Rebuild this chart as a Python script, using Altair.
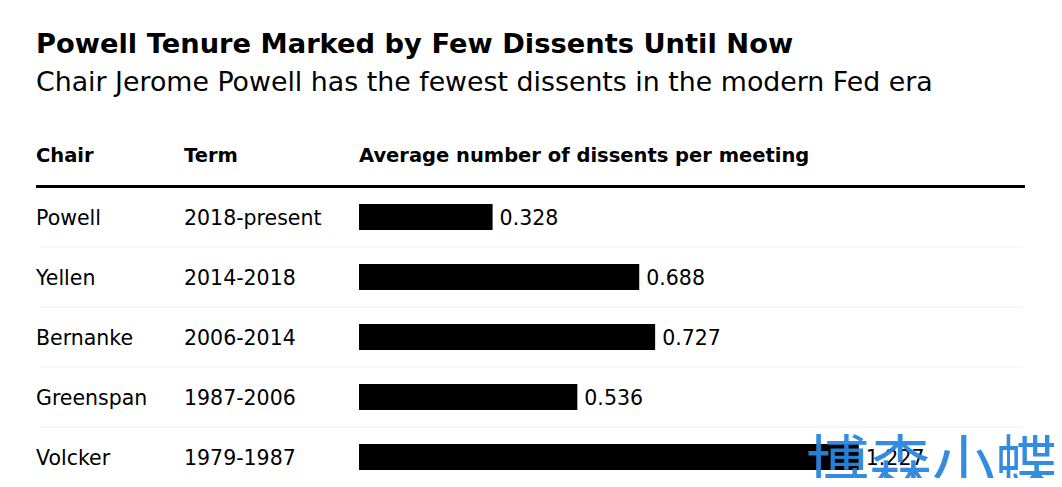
import altair as alt
import pandas as pd

chairs = ["Powell", "Yellen", "Bernanke", "Greenspan", "Volcker"]
terms = ["2018-present", "2014-2018", "2006-2014", "1987-2006", "1979-1987"]
dissents = [0.328, 0.688, 0.727, 0.536, 1.227]
labels = ["0.328", "0.688", "0.727", "0.536", "1.227"]

title_text = "Powell Tenure Marked by Few Dissents Until Now"
subtitle_text = "Chair Jerome Powell has the fewest dissents in the modern Fed era"
headers = ["Chair", "Term", "Average number of dissents per meeting"]
watermark = "博森小蝶"

df = pd.DataFrame({"chair": chairs, "term": terms, "value": dissents, "label": labels})

FONT = "DejaVu Sans"
W = 989
H = 340
BAR_X0 = 323

yscale = alt.Scale(domain=chairs, range=[57, 357], paddingInner=0, paddingOuter=0)
xscale = alt.Scale(domain=[0, 1.5], range=[BAR_X0, BAR_X0 + 611])
Y = alt.Y("chair:N", sort=chairs, axis=None, scale=yscale)

base = alt.Chart(df)

sep = base.transform_filter(alt.datum.chair != "Volcker").mark_rule(
    color="#f0f0f0", strokeWidth=1
).encode(
    y=alt.Y("chair:N", sort=chairs, axis=None, scale=yscale, bandPosition=1),
    x=alt.value(4),
    x2=alt.value(W - 2),
)

thick = base.transform_filter(alt.datum.chair == "Powell").mark_rule(
    color="black", strokeWidth=3
).encode(y=alt.value(56.5), x=alt.value(0), x2=alt.value(W))

bars = base.mark_bar(color="black", size=26).encode(
    x=alt.X("value:Q", scale=xscale, axis=None), y=Y
)

vals = base.mark_text(
    align="left", baseline="alphabetic", dx=7, dy=7.5, fontSize=20.5, font=FONT, color="black"
).encode(x=alt.X("value:Q", scale=xscale, axis=None), y=Y, text="label:N")

chair_txt = base.mark_text(
    align="left", baseline="alphabetic", dy=7.5, fontSize=20.5, font=FONT, color="black"
).encode(x=alt.value(0), y=Y, text="chair:N")

term_txt = base.mark_text(
    align="left", baseline="alphabetic", dy=7.5, fontSize=20.5, font=FONT, color="black"
).encode(x=alt.value(148), y=Y, text="term:N")

hdr_df = pd.DataFrame({"h": headers})
hdr_layers = []
for i, hx in enumerate([0, 148, BAR_X0]):
    hdr_layers.append(
        alt.Chart(hdr_df)
        .transform_filter(alt.datum.h == headers[i])
        .mark_text(align="left", baseline="alphabetic", fontSize=19.5, fontWeight="bold", font=FONT, color="black")
        .encode(x=alt.value(hx), y=alt.value(32), text="h:N")
    )

wm_df = pd.DataFrame({"w": [watermark]})
wm = alt.Chart(wm_df).mark_text(
    align="left", baseline="middle", fontSize=63, font="Noto Sans CJK SC",
    color="#2a86e0", opacity=0.95
).encode(x=alt.value(770), y=alt.value(338), text="w:N")

chart = alt.layer(sep, thick, bars, vals, chair_txt, term_txt, *hdr_layers, wm).properties(
    width=W,
    height=H,
    autosize=alt.AutoSizeParams(type="none"),
    padding={"left": 28, "top": 122, "right": 29, "bottom": 8},
    title=alt.TitleParams(
        text=title_text,
        subtitle=subtitle_text,
        anchor="start",
        frame="group",
        font=FONT,
        fontSize=27.3,
        fontWeight="bold",
        color="black",
        subtitleFont=FONT,
        subtitleFontSize=26.8,
        subtitleColor="black",
        subtitlePadding=12,
        offset=33,
    ),
).configure(background="white").configure_view(stroke=None, strokeWidth=0)

chart.save("out.html", embed_options={"renderer": "svg", "actions": False})
